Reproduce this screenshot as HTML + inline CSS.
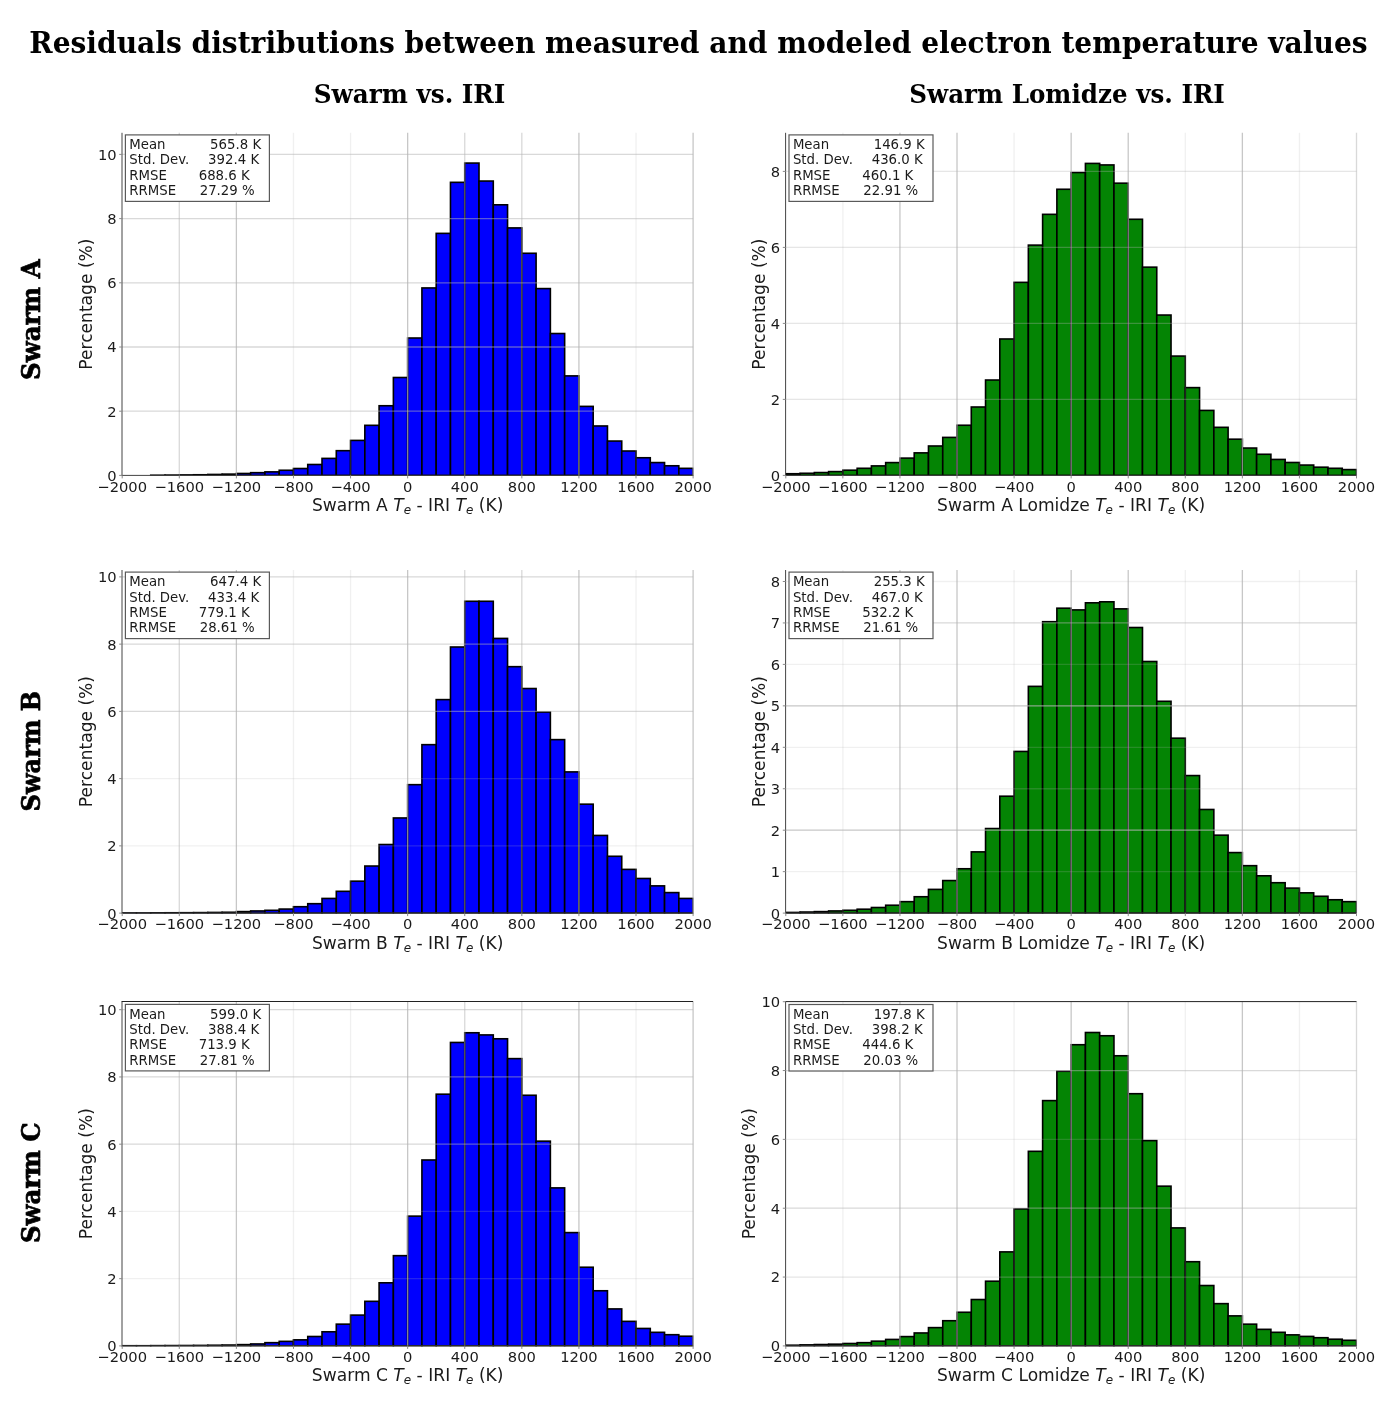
<!DOCTYPE html>
<html lang="en"><head><meta charset="utf-8"><title>Residuals distributions between measured and modeled electron temperature values</title>
<style>html,body{margin:0;padding:0;background:#fff}body{width:1392px;height:1411px;overflow:hidden}svg{display:block}</style>
</head><body>
<svg width="1392" height="1411" viewBox="0 0 1392 1411">
<rect width="1392" height="1411" fill="#fff"/>
<g font-family="'DejaVu Serif','Liberation Serif',serif" font-weight="bold" fill="#000">
<text x="29.3" y="52.5" font-size="29.3" textLength="1338.3" lengthAdjust="spacingAndGlyphs">Residuals distributions between measured and modeled electron temperature values</text>
<text x="313.7" y="102.9" font-size="25.6" textLength="191.7" lengthAdjust="spacingAndGlyphs">Swarm vs. IRI</text>
<text x="909.2" y="103.0" font-size="25.6" textLength="315.7" lengthAdjust="spacingAndGlyphs">Swarm Lomidze vs. IRI</text>
<text transform="translate(40.4 380.0) rotate(-90)" font-size="25.8" textLength="120.6" lengthAdjust="spacingAndGlyphs" stroke="#000" stroke-width="0.7">Swarm A</text>
<text transform="translate(40.4 811.5) rotate(-90)" font-size="25.8" textLength="120.6" lengthAdjust="spacingAndGlyphs" stroke="#000" stroke-width="0.7">Swarm B</text>
<text transform="translate(40.4 1243.0) rotate(-90)" font-size="25.8" textLength="120.6" lengthAdjust="spacingAndGlyphs" stroke="#000" stroke-width="0.7">Swarm C</text>
</g>
<g font-family="'DejaVu Sans','Liberation Sans',sans-serif" fill="#1a1a1a">
<g>
<clipPath id="c0"><rect x="121.90" y="132.80" width="571.60" height="343.30"/></clipPath>
<g fill="#0000fe" stroke="#000" stroke-width="1.6" stroke-linejoin="miter" clip-path="url(#c0)">
<rect x="122.20" y="475.40" width="14.27" height="0.00"/>
<rect x="136.47" y="475.40" width="14.27" height="0.00"/>
<rect x="150.75" y="475.24" width="14.27" height="0.16"/>
<rect x="165.02" y="475.08" width="14.27" height="0.32"/>
<rect x="179.29" y="474.92" width="14.27" height="0.48"/>
<rect x="193.56" y="474.76" width="14.27" height="0.64"/>
<rect x="207.83" y="474.44" width="14.27" height="0.96"/>
<rect x="222.11" y="474.12" width="14.27" height="1.28"/>
<rect x="236.38" y="473.47" width="14.27" height="1.93"/>
<rect x="250.65" y="472.67" width="14.27" height="2.73"/>
<rect x="264.93" y="471.87" width="14.27" height="3.53"/>
<rect x="279.20" y="470.26" width="14.27" height="5.14"/>
<rect x="293.47" y="468.50" width="14.27" height="6.90"/>
<rect x="307.74" y="464.49" width="14.27" height="10.91"/>
<rect x="322.01" y="458.39" width="14.27" height="17.01"/>
<rect x="336.29" y="450.68" width="14.27" height="24.72"/>
<rect x="350.56" y="440.41" width="14.27" height="34.99"/>
<rect x="364.83" y="425.32" width="14.27" height="50.08"/>
<rect x="379.10" y="405.74" width="14.27" height="69.66"/>
<rect x="393.38" y="377.50" width="14.27" height="97.91"/>
<rect x="407.65" y="338.01" width="14.27" height="137.39"/>
<rect x="421.92" y="287.94" width="14.27" height="187.46"/>
<rect x="436.19" y="233.37" width="14.27" height="242.03"/>
<rect x="450.47" y="182.33" width="14.27" height="293.07"/>
<rect x="464.74" y="163.07" width="14.27" height="312.33"/>
<rect x="479.01" y="181.04" width="14.27" height="294.36"/>
<rect x="493.28" y="204.80" width="14.27" height="270.60"/>
<rect x="507.56" y="227.91" width="14.27" height="247.49"/>
<rect x="521.83" y="253.27" width="14.27" height="222.13"/>
<rect x="536.10" y="288.58" width="14.27" height="186.82"/>
<rect x="550.38" y="333.52" width="14.27" height="141.88"/>
<rect x="564.65" y="375.89" width="14.27" height="99.51"/>
<rect x="578.92" y="406.38" width="14.27" height="69.02"/>
<rect x="593.19" y="425.97" width="14.27" height="49.43"/>
<rect x="607.47" y="441.05" width="14.27" height="34.35"/>
<rect x="621.74" y="451.00" width="14.27" height="24.40"/>
<rect x="636.01" y="457.75" width="14.27" height="17.66"/>
<rect x="650.28" y="462.56" width="14.27" height="12.84"/>
<rect x="664.56" y="465.77" width="14.27" height="9.63"/>
<rect x="678.83" y="468.34" width="14.27" height="7.06"/>
</g>
<g stroke="#b4b4b4" stroke-width="1.3" fill="none">
<line x1="179.29" y1="132.80" x2="179.29" y2="475.40" stroke-opacity="0.5"/>
<line x1="236.38" y1="132.80" x2="236.38" y2="475.40" stroke-opacity="0.75"/>
<line x1="293.47" y1="132.80" x2="293.47" y2="475.40" stroke-opacity="0.2"/>
<line x1="350.56" y1="132.80" x2="350.56" y2="475.40" stroke-opacity="0.2"/>
<line x1="407.65" y1="132.80" x2="407.65" y2="475.40" stroke-opacity="0.75"/>
<line x1="464.74" y1="132.80" x2="464.74" y2="475.40" stroke-opacity="0.5"/>
<line x1="521.83" y1="132.80" x2="521.83" y2="475.40" stroke-opacity="0.5"/>
<line x1="578.92" y1="132.80" x2="578.92" y2="475.40" stroke-opacity="0.75"/>
<line x1="636.01" y1="132.80" x2="636.01" y2="475.40" stroke-opacity="0.2"/>
<line x1="693.10" y1="132.80" x2="693.10" y2="475.40" stroke-opacity="0.75"/>
<line x1="122.20" y1="411.20" x2="693.10" y2="411.20" stroke-opacity="0.5"/>
<line x1="122.20" y1="347.00" x2="693.10" y2="347.00" stroke-opacity="0.5"/>
<line x1="122.20" y1="282.80" x2="693.10" y2="282.80" stroke-opacity="0.5"/>
<line x1="122.20" y1="218.60" x2="693.10" y2="218.60" stroke-opacity="0.5"/>
<line x1="122.20" y1="154.40" x2="693.10" y2="154.40" stroke-opacity="0.5"/>
</g>
<g stroke="#444" stroke-width="1" fill="none">
<line x1="122.00" y1="132.80" x2="122.00" y2="476.00"/>
<line x1="121.60" y1="475.40" x2="693.10" y2="475.40"/>
</g>
<g stroke="#8a8a8a" stroke-width="1">
<line x1="122.20" y1="475.40" x2="122.20" y2="478.40"/>
<line x1="179.29" y1="475.40" x2="179.29" y2="478.40"/>
<line x1="236.38" y1="475.40" x2="236.38" y2="478.40"/>
<line x1="293.47" y1="475.40" x2="293.47" y2="478.40"/>
<line x1="350.56" y1="475.40" x2="350.56" y2="478.40"/>
<line x1="407.65" y1="475.40" x2="407.65" y2="478.40"/>
<line x1="464.74" y1="475.40" x2="464.74" y2="478.40"/>
<line x1="521.83" y1="475.40" x2="521.83" y2="478.40"/>
<line x1="578.92" y1="475.40" x2="578.92" y2="478.40"/>
<line x1="636.01" y1="475.40" x2="636.01" y2="478.40"/>
<line x1="693.10" y1="475.40" x2="693.10" y2="478.40"/>
<line x1="119.20" y1="475.40" x2="122.20" y2="475.40"/>
<line x1="119.20" y1="411.20" x2="122.20" y2="411.20"/>
<line x1="119.20" y1="347.00" x2="122.20" y2="347.00"/>
<line x1="119.20" y1="282.80" x2="122.20" y2="282.80"/>
<line x1="119.20" y1="218.60" x2="122.20" y2="218.60"/>
<line x1="119.20" y1="154.40" x2="122.20" y2="154.40"/>
</g>
<g font-size="14.7">
<text x="122.20" y="491.65" text-anchor="middle">−2000</text>
<text x="179.29" y="491.65" text-anchor="middle">−1600</text>
<text x="236.38" y="491.65" text-anchor="middle">−1200</text>
<text x="293.47" y="491.65" text-anchor="middle">−800</text>
<text x="350.56" y="491.65" text-anchor="middle">−400</text>
<text x="407.65" y="491.65" text-anchor="middle">0</text>
<text x="464.74" y="491.65" text-anchor="middle">400</text>
<text x="521.83" y="491.65" text-anchor="middle">800</text>
<text x="578.92" y="491.65" text-anchor="middle">1200</text>
<text x="636.01" y="491.65" text-anchor="middle">1600</text>
<text x="693.10" y="491.65" text-anchor="middle">2000</text>
<text x="116.60" y="480.80" text-anchor="end">0</text>
<text x="116.60" y="416.60" text-anchor="end">2</text>
<text x="116.60" y="352.40" text-anchor="end">4</text>
<text x="116.60" y="288.20" text-anchor="end">6</text>
<text x="116.60" y="224.00" text-anchor="end">8</text>
<text x="116.60" y="159.80" text-anchor="end">10</text>
</g>
<text x="407.65" y="510.80" font-size="17.1" text-anchor="middle">Swarm A <tspan font-style="italic">T</tspan><tspan font-size="11.97" dy="3" font-style="italic">e</tspan><tspan dy="-3"> - IRI </tspan><tspan font-style="italic">T</tspan><tspan font-size="11.97" dy="3" font-style="italic">e</tspan><tspan dy="-3"> (K)</tspan></text>
<text transform="translate(91.70 304.10) rotate(-90)" font-size="17.1" text-anchor="middle">Percentage (%)</text>
<rect x="125.40" y="134.90" width="144" height="66.5" fill="#fff" stroke="#5a5a5a" stroke-width="1.2"/>
<g font-size="13.3">
<text x="129.30" y="149.10">Mean</text>
<text x="210.10" y="149.10">565.8 K</text>
<text x="129.30" y="164.40">Std. Dev.</text>
<text x="208.10" y="164.40">392.4 K</text>
<text x="129.30" y="179.70">RMSE</text>
<text x="198.70" y="179.70">688.6 K</text>
<text x="129.30" y="195.00">RRMSE</text>
<text x="199.70" y="195.00">27.29 %</text>
</g>
</g>
<g>
<clipPath id="c1"><rect x="785.50" y="132.80" width="571.40" height="343.30"/></clipPath>
<g fill="#048404" stroke="#000" stroke-width="1.6" stroke-linejoin="miter" clip-path="url(#c1)">
<rect x="785.80" y="473.73" width="14.27" height="1.67"/>
<rect x="800.07" y="473.27" width="14.27" height="2.13"/>
<rect x="814.33" y="472.55" width="14.27" height="2.85"/>
<rect x="828.60" y="471.60" width="14.27" height="3.80"/>
<rect x="842.87" y="470.19" width="14.27" height="5.21"/>
<rect x="857.14" y="468.29" width="14.27" height="7.11"/>
<rect x="871.40" y="465.90" width="14.27" height="9.50"/>
<rect x="885.67" y="462.59" width="14.27" height="12.81"/>
<rect x="899.94" y="458.11" width="14.27" height="17.29"/>
<rect x="914.21" y="452.87" width="14.27" height="22.53"/>
<rect x="928.47" y="445.99" width="14.27" height="29.41"/>
<rect x="942.74" y="437.40" width="14.27" height="38.00"/>
<rect x="957.01" y="425.24" width="14.27" height="50.16"/>
<rect x="971.28" y="407.00" width="14.27" height="68.40"/>
<rect x="985.54" y="380.02" width="14.27" height="95.38"/>
<rect x="999.81" y="338.98" width="14.27" height="136.42"/>
<rect x="1014.08" y="282.36" width="14.27" height="193.04"/>
<rect x="1028.35" y="245.12" width="14.27" height="230.28"/>
<rect x="1042.62" y="214.34" width="14.27" height="261.06"/>
<rect x="1056.88" y="189.26" width="14.27" height="286.14"/>
<rect x="1071.15" y="172.54" width="14.27" height="302.86"/>
<rect x="1085.42" y="163.42" width="14.27" height="311.98"/>
<rect x="1099.68" y="164.94" width="14.27" height="310.46"/>
<rect x="1113.95" y="183.18" width="14.27" height="292.22"/>
<rect x="1128.22" y="219.28" width="14.27" height="256.12"/>
<rect x="1142.49" y="267.16" width="14.27" height="208.24"/>
<rect x="1156.76" y="315.04" width="14.27" height="160.36"/>
<rect x="1171.02" y="356.08" width="14.27" height="119.32"/>
<rect x="1185.29" y="387.62" width="14.27" height="87.78"/>
<rect x="1199.56" y="410.42" width="14.27" height="64.98"/>
<rect x="1213.83" y="427.33" width="14.27" height="48.07"/>
<rect x="1228.09" y="439.19" width="14.27" height="36.21"/>
<rect x="1242.36" y="448.04" width="14.27" height="27.36"/>
<rect x="1256.63" y="454.27" width="14.27" height="21.13"/>
<rect x="1270.89" y="459.44" width="14.27" height="15.96"/>
<rect x="1285.16" y="462.48" width="14.27" height="12.92"/>
<rect x="1299.43" y="465.06" width="14.27" height="10.34"/>
<rect x="1313.70" y="467.19" width="14.27" height="8.21"/>
<rect x="1327.97" y="468.29" width="14.27" height="7.11"/>
<rect x="1342.23" y="469.59" width="14.27" height="5.81"/>
</g>
<g stroke="#b4b4b4" stroke-width="1.3" fill="none">
<line x1="842.87" y1="132.80" x2="842.87" y2="475.40" stroke-opacity="0.2"/>
<line x1="899.94" y1="132.80" x2="899.94" y2="475.40" stroke-opacity="0.75"/>
<line x1="957.01" y1="132.80" x2="957.01" y2="475.40" stroke-opacity="0.75"/>
<line x1="1014.08" y1="132.80" x2="1014.08" y2="475.40" stroke-opacity="0.2"/>
<line x1="1071.15" y1="132.80" x2="1071.15" y2="475.40" stroke-opacity="0.75"/>
<line x1="1128.22" y1="132.80" x2="1128.22" y2="475.40" stroke-opacity="0.75"/>
<line x1="1185.29" y1="132.80" x2="1185.29" y2="475.40" stroke-opacity="0.2"/>
<line x1="1242.36" y1="132.80" x2="1242.36" y2="475.40" stroke-opacity="0.75"/>
<line x1="1299.43" y1="132.80" x2="1299.43" y2="475.40" stroke-opacity="0.2"/>
<line x1="1356.50" y1="132.80" x2="1356.50" y2="475.40" stroke-opacity="0.5"/>
<line x1="785.80" y1="399.40" x2="1356.50" y2="399.40" stroke-opacity="0.33"/>
<line x1="785.80" y1="323.40" x2="1356.50" y2="323.40" stroke-opacity="0.33"/>
<line x1="785.80" y1="247.40" x2="1356.50" y2="247.40" stroke-opacity="0.33"/>
<line x1="785.80" y1="171.40" x2="1356.50" y2="171.40" stroke-opacity="0.33"/>
</g>
<g stroke="#444" stroke-width="1" fill="none">
<line x1="785.60" y1="132.80" x2="785.60" y2="476.00"/>
<line x1="785.20" y1="475.40" x2="1356.50" y2="475.40"/>
</g>
<g stroke="#8a8a8a" stroke-width="1">
<line x1="785.80" y1="475.40" x2="785.80" y2="478.40"/>
<line x1="842.87" y1="475.40" x2="842.87" y2="478.40"/>
<line x1="899.94" y1="475.40" x2="899.94" y2="478.40"/>
<line x1="957.01" y1="475.40" x2="957.01" y2="478.40"/>
<line x1="1014.08" y1="475.40" x2="1014.08" y2="478.40"/>
<line x1="1071.15" y1="475.40" x2="1071.15" y2="478.40"/>
<line x1="1128.22" y1="475.40" x2="1128.22" y2="478.40"/>
<line x1="1185.29" y1="475.40" x2="1185.29" y2="478.40"/>
<line x1="1242.36" y1="475.40" x2="1242.36" y2="478.40"/>
<line x1="1299.43" y1="475.40" x2="1299.43" y2="478.40"/>
<line x1="1356.50" y1="475.40" x2="1356.50" y2="478.40"/>
<line x1="782.80" y1="475.40" x2="785.80" y2="475.40"/>
<line x1="782.80" y1="399.40" x2="785.80" y2="399.40"/>
<line x1="782.80" y1="323.40" x2="785.80" y2="323.40"/>
<line x1="782.80" y1="247.40" x2="785.80" y2="247.40"/>
<line x1="782.80" y1="171.40" x2="785.80" y2="171.40"/>
</g>
<g font-size="14.7">
<text x="785.80" y="491.65" text-anchor="middle">−2000</text>
<text x="842.87" y="491.65" text-anchor="middle">−1600</text>
<text x="899.94" y="491.65" text-anchor="middle">−1200</text>
<text x="957.01" y="491.65" text-anchor="middle">−800</text>
<text x="1014.08" y="491.65" text-anchor="middle">−400</text>
<text x="1071.15" y="491.65" text-anchor="middle">0</text>
<text x="1128.22" y="491.65" text-anchor="middle">400</text>
<text x="1185.29" y="491.65" text-anchor="middle">800</text>
<text x="1242.36" y="491.65" text-anchor="middle">1200</text>
<text x="1299.43" y="491.65" text-anchor="middle">1600</text>
<text x="1356.50" y="491.65" text-anchor="middle">2000</text>
<text x="780.20" y="480.80" text-anchor="end">0</text>
<text x="780.20" y="404.80" text-anchor="end">2</text>
<text x="780.20" y="328.80" text-anchor="end">4</text>
<text x="780.20" y="252.80" text-anchor="end">6</text>
<text x="780.20" y="176.80" text-anchor="end">8</text>
</g>
<text x="1071.15" y="510.80" font-size="17.1" text-anchor="middle">Swarm A Lomidze <tspan font-style="italic">T</tspan><tspan font-size="11.97" dy="3" font-style="italic">e</tspan><tspan dy="-3"> - IRI </tspan><tspan font-style="italic">T</tspan><tspan font-size="11.97" dy="3" font-style="italic">e</tspan><tspan dy="-3"> (K)</tspan></text>
<text transform="translate(764.60 304.10) rotate(-90)" font-size="17.1" text-anchor="middle">Percentage (%)</text>
<rect x="789.00" y="134.90" width="144" height="66.5" fill="#fff" stroke="#5a5a5a" stroke-width="1.2"/>
<g font-size="13.3">
<text x="792.90" y="149.10">Mean</text>
<text x="873.70" y="149.10">146.9 K</text>
<text x="792.90" y="164.40">Std. Dev.</text>
<text x="871.70" y="164.40">436.0 K</text>
<text x="792.90" y="179.70">RMSE</text>
<text x="862.30" y="179.70">460.1 K</text>
<text x="792.90" y="195.00">RRMSE</text>
<text x="863.30" y="195.00">22.91 %</text>
</g>
</g>
<g>
<clipPath id="c2"><rect x="121.90" y="570.00" width="571.60" height="343.80"/></clipPath>
<g fill="#0000fe" stroke="#000" stroke-width="1.6" stroke-linejoin="miter" clip-path="url(#c2)">
<rect x="122.20" y="912.93" width="14.27" height="0.17"/>
<rect x="136.47" y="912.93" width="14.27" height="0.17"/>
<rect x="150.75" y="912.83" width="14.27" height="0.27"/>
<rect x="165.02" y="912.76" width="14.27" height="0.34"/>
<rect x="179.29" y="912.70" width="14.27" height="0.40"/>
<rect x="193.56" y="912.60" width="14.27" height="0.50"/>
<rect x="207.83" y="912.43" width="14.27" height="0.67"/>
<rect x="222.11" y="912.26" width="14.27" height="0.84"/>
<rect x="236.38" y="911.59" width="14.27" height="1.51"/>
<rect x="250.65" y="910.95" width="14.27" height="2.15"/>
<rect x="264.93" y="910.31" width="14.27" height="2.79"/>
<rect x="279.20" y="909.07" width="14.27" height="4.03"/>
<rect x="293.47" y="906.71" width="14.27" height="6.39"/>
<rect x="307.74" y="903.69" width="14.27" height="9.41"/>
<rect x="322.01" y="898.44" width="14.27" height="14.66"/>
<rect x="336.29" y="891.31" width="14.27" height="21.79"/>
<rect x="350.56" y="881.16" width="14.27" height="31.94"/>
<rect x="364.83" y="866.03" width="14.27" height="47.07"/>
<rect x="379.10" y="844.52" width="14.27" height="68.58"/>
<rect x="393.38" y="817.96" width="14.27" height="95.14"/>
<rect x="407.65" y="784.67" width="14.27" height="128.43"/>
<rect x="421.92" y="744.66" width="14.27" height="168.44"/>
<rect x="436.19" y="699.61" width="14.27" height="213.49"/>
<rect x="450.47" y="647.00" width="14.27" height="266.10"/>
<rect x="464.74" y="601.27" width="14.27" height="311.83"/>
<rect x="479.01" y="601.27" width="14.27" height="311.83"/>
<rect x="493.28" y="638.42" width="14.27" height="274.68"/>
<rect x="507.56" y="666.67" width="14.27" height="246.43"/>
<rect x="521.83" y="688.52" width="14.27" height="224.58"/>
<rect x="536.10" y="712.05" width="14.27" height="201.05"/>
<rect x="550.38" y="739.62" width="14.27" height="173.48"/>
<rect x="564.65" y="771.90" width="14.27" height="141.20"/>
<rect x="578.92" y="804.17" width="14.27" height="108.93"/>
<rect x="593.19" y="835.44" width="14.27" height="77.66"/>
<rect x="607.47" y="856.28" width="14.27" height="56.82"/>
<rect x="621.74" y="869.39" width="14.27" height="43.71"/>
<rect x="636.01" y="878.47" width="14.27" height="34.63"/>
<rect x="650.28" y="885.87" width="14.27" height="27.23"/>
<rect x="664.56" y="892.59" width="14.27" height="20.51"/>
<rect x="678.83" y="898.44" width="14.27" height="14.66"/>
</g>
<g stroke="#b4b4b4" stroke-width="1.3" fill="none">
<line x1="179.29" y1="570.00" x2="179.29" y2="913.10" stroke-opacity="0.5"/>
<line x1="236.38" y1="570.00" x2="236.38" y2="913.10" stroke-opacity="0.75"/>
<line x1="293.47" y1="570.00" x2="293.47" y2="913.10" stroke-opacity="0.2"/>
<line x1="350.56" y1="570.00" x2="350.56" y2="913.10" stroke-opacity="0.2"/>
<line x1="407.65" y1="570.00" x2="407.65" y2="913.10" stroke-opacity="0.75"/>
<line x1="464.74" y1="570.00" x2="464.74" y2="913.10" stroke-opacity="0.5"/>
<line x1="521.83" y1="570.00" x2="521.83" y2="913.10" stroke-opacity="0.5"/>
<line x1="578.92" y1="570.00" x2="578.92" y2="913.10" stroke-opacity="0.75"/>
<line x1="636.01" y1="570.00" x2="636.01" y2="913.10" stroke-opacity="0.2"/>
<line x1="693.10" y1="570.00" x2="693.10" y2="913.10" stroke-opacity="0.75"/>
<line x1="122.20" y1="845.86" x2="693.10" y2="845.86" stroke-opacity="0.2"/>
<line x1="122.20" y1="778.62" x2="693.10" y2="778.62" stroke-opacity="0.2"/>
<line x1="122.20" y1="711.38" x2="693.10" y2="711.38" stroke-opacity="0.5"/>
<line x1="122.20" y1="644.14" x2="693.10" y2="644.14" stroke-opacity="0.5"/>
<line x1="122.20" y1="576.90" x2="693.10" y2="576.90" stroke-opacity="0.5"/>
</g>
<g stroke="#444" stroke-width="1" fill="none">
<line x1="122.00" y1="570.00" x2="122.00" y2="913.70"/>
<line x1="121.60" y1="913.10" x2="693.10" y2="913.10"/>
</g>
<g stroke="#8a8a8a" stroke-width="1">
<line x1="122.20" y1="913.10" x2="122.20" y2="916.10"/>
<line x1="179.29" y1="913.10" x2="179.29" y2="916.10"/>
<line x1="236.38" y1="913.10" x2="236.38" y2="916.10"/>
<line x1="293.47" y1="913.10" x2="293.47" y2="916.10"/>
<line x1="350.56" y1="913.10" x2="350.56" y2="916.10"/>
<line x1="407.65" y1="913.10" x2="407.65" y2="916.10"/>
<line x1="464.74" y1="913.10" x2="464.74" y2="916.10"/>
<line x1="521.83" y1="913.10" x2="521.83" y2="916.10"/>
<line x1="578.92" y1="913.10" x2="578.92" y2="916.10"/>
<line x1="636.01" y1="913.10" x2="636.01" y2="916.10"/>
<line x1="693.10" y1="913.10" x2="693.10" y2="916.10"/>
<line x1="119.20" y1="913.10" x2="122.20" y2="913.10"/>
<line x1="119.20" y1="845.86" x2="122.20" y2="845.86"/>
<line x1="119.20" y1="778.62" x2="122.20" y2="778.62"/>
<line x1="119.20" y1="711.38" x2="122.20" y2="711.38"/>
<line x1="119.20" y1="644.14" x2="122.20" y2="644.14"/>
<line x1="119.20" y1="576.90" x2="122.20" y2="576.90"/>
</g>
<g font-size="14.7">
<text x="122.20" y="929.35" text-anchor="middle">−2000</text>
<text x="179.29" y="929.35" text-anchor="middle">−1600</text>
<text x="236.38" y="929.35" text-anchor="middle">−1200</text>
<text x="293.47" y="929.35" text-anchor="middle">−800</text>
<text x="350.56" y="929.35" text-anchor="middle">−400</text>
<text x="407.65" y="929.35" text-anchor="middle">0</text>
<text x="464.74" y="929.35" text-anchor="middle">400</text>
<text x="521.83" y="929.35" text-anchor="middle">800</text>
<text x="578.92" y="929.35" text-anchor="middle">1200</text>
<text x="636.01" y="929.35" text-anchor="middle">1600</text>
<text x="693.10" y="929.35" text-anchor="middle">2000</text>
<text x="116.60" y="918.50" text-anchor="end">0</text>
<text x="116.60" y="851.26" text-anchor="end">2</text>
<text x="116.60" y="784.02" text-anchor="end">4</text>
<text x="116.60" y="716.78" text-anchor="end">6</text>
<text x="116.60" y="649.54" text-anchor="end">8</text>
<text x="116.60" y="582.30" text-anchor="end">10</text>
</g>
<text x="407.65" y="948.50" font-size="17.1" text-anchor="middle">Swarm B <tspan font-style="italic">T</tspan><tspan font-size="11.97" dy="3" font-style="italic">e</tspan><tspan dy="-3"> - IRI </tspan><tspan font-style="italic">T</tspan><tspan font-size="11.97" dy="3" font-style="italic">e</tspan><tspan dy="-3"> (K)</tspan></text>
<text transform="translate(91.70 741.55) rotate(-90)" font-size="17.1" text-anchor="middle">Percentage (%)</text>
<rect x="125.40" y="572.10" width="144" height="66.5" fill="#fff" stroke="#5a5a5a" stroke-width="1.2"/>
<g font-size="13.3">
<text x="129.30" y="586.30">Mean</text>
<text x="210.10" y="586.30">647.4 K</text>
<text x="129.30" y="601.60">Std. Dev.</text>
<text x="208.10" y="601.60">433.4 K</text>
<text x="129.30" y="616.90">RMSE</text>
<text x="198.70" y="616.90">779.1 K</text>
<text x="129.30" y="632.20">RRMSE</text>
<text x="199.70" y="632.20">28.61 %</text>
</g>
</g>
<g>
<clipPath id="c3"><rect x="785.50" y="570.00" width="571.40" height="343.80"/></clipPath>
<g fill="#048404" stroke="#000" stroke-width="1.6" stroke-linejoin="miter" clip-path="url(#c3)">
<rect x="785.80" y="912.44" width="14.27" height="0.66"/>
<rect x="800.07" y="912.02" width="14.27" height="1.08"/>
<rect x="814.33" y="911.61" width="14.27" height="1.49"/>
<rect x="828.60" y="910.94" width="14.27" height="2.16"/>
<rect x="842.87" y="910.28" width="14.27" height="2.82"/>
<rect x="857.14" y="909.20" width="14.27" height="3.90"/>
<rect x="871.40" y="907.50" width="14.27" height="5.60"/>
<rect x="885.67" y="905.22" width="14.27" height="7.88"/>
<rect x="899.94" y="901.66" width="14.27" height="11.44"/>
<rect x="914.21" y="896.73" width="14.27" height="16.37"/>
<rect x="928.47" y="889.39" width="14.27" height="23.71"/>
<rect x="942.74" y="880.56" width="14.27" height="32.54"/>
<rect x="957.01" y="868.75" width="14.27" height="44.35"/>
<rect x="971.28" y="851.88" width="14.27" height="61.22"/>
<rect x="985.54" y="828.54" width="14.27" height="84.56"/>
<rect x="999.81" y="796.21" width="14.27" height="116.89"/>
<rect x="1014.08" y="751.45" width="14.27" height="161.66"/>
<rect x="1028.35" y="686.37" width="14.27" height="226.73"/>
<rect x="1042.62" y="621.71" width="14.27" height="291.39"/>
<rect x="1056.88" y="608.19" width="14.27" height="304.91"/>
<rect x="1071.15" y="609.89" width="14.27" height="303.21"/>
<rect x="1085.42" y="602.81" width="14.27" height="310.29"/>
<rect x="1099.68" y="601.81" width="14.27" height="311.29"/>
<rect x="1113.95" y="608.86" width="14.27" height="304.24"/>
<rect x="1128.22" y="627.51" width="14.27" height="285.59"/>
<rect x="1142.49" y="661.50" width="14.27" height="251.60"/>
<rect x="1156.76" y="701.29" width="14.27" height="211.81"/>
<rect x="1171.02" y="738.18" width="14.27" height="174.92"/>
<rect x="1185.29" y="775.57" width="14.27" height="137.53"/>
<rect x="1199.56" y="809.48" width="14.27" height="103.62"/>
<rect x="1213.83" y="835.17" width="14.27" height="77.93"/>
<rect x="1228.09" y="852.58" width="14.27" height="60.52"/>
<rect x="1242.36" y="865.68" width="14.27" height="47.42"/>
<rect x="1256.63" y="875.80" width="14.27" height="37.31"/>
<rect x="1270.89" y="882.72" width="14.27" height="30.38"/>
<rect x="1285.16" y="888.11" width="14.27" height="24.99"/>
<rect x="1299.43" y="892.83" width="14.27" height="20.27"/>
<rect x="1313.70" y="896.27" width="14.27" height="16.83"/>
<rect x="1327.97" y="899.75" width="14.27" height="13.35"/>
<rect x="1342.23" y="901.66" width="14.27" height="11.44"/>
</g>
<g stroke="#b4b4b4" stroke-width="1.3" fill="none">
<line x1="842.87" y1="570.00" x2="842.87" y2="913.10" stroke-opacity="0.2"/>
<line x1="899.94" y1="570.00" x2="899.94" y2="913.10" stroke-opacity="0.75"/>
<line x1="957.01" y1="570.00" x2="957.01" y2="913.10" stroke-opacity="0.75"/>
<line x1="1014.08" y1="570.00" x2="1014.08" y2="913.10" stroke-opacity="0.2"/>
<line x1="1071.15" y1="570.00" x2="1071.15" y2="913.10" stroke-opacity="0.75"/>
<line x1="1128.22" y1="570.00" x2="1128.22" y2="913.10" stroke-opacity="0.75"/>
<line x1="1185.29" y1="570.00" x2="1185.29" y2="913.10" stroke-opacity="0.2"/>
<line x1="1242.36" y1="570.00" x2="1242.36" y2="913.10" stroke-opacity="0.75"/>
<line x1="1299.43" y1="570.00" x2="1299.43" y2="913.10" stroke-opacity="0.2"/>
<line x1="1356.50" y1="570.00" x2="1356.50" y2="913.10" stroke-opacity="0.5"/>
<line x1="785.80" y1="871.65" x2="1356.50" y2="871.65" stroke-opacity="0.2"/>
<line x1="785.80" y1="830.20" x2="1356.50" y2="830.20" stroke-opacity="0.75"/>
<line x1="785.80" y1="788.75" x2="1356.50" y2="788.75" stroke-opacity="0.2"/>
<line x1="785.80" y1="747.30" x2="1356.50" y2="747.30" stroke-opacity="0.2"/>
<line x1="785.80" y1="705.85" x2="1356.50" y2="705.85" stroke-opacity="0.75"/>
<line x1="785.80" y1="664.40" x2="1356.50" y2="664.40" stroke-opacity="0.2"/>
<line x1="785.80" y1="622.95" x2="1356.50" y2="622.95" stroke-opacity="0.5"/>
<line x1="785.80" y1="581.50" x2="1356.50" y2="581.50" stroke-opacity="0.2"/>
</g>
<g stroke="#444" stroke-width="1" fill="none">
<line x1="785.60" y1="570.00" x2="785.60" y2="913.70"/>
<line x1="785.20" y1="913.10" x2="1356.50" y2="913.10"/>
</g>
<g stroke="#8a8a8a" stroke-width="1">
<line x1="785.80" y1="913.10" x2="785.80" y2="916.10"/>
<line x1="842.87" y1="913.10" x2="842.87" y2="916.10"/>
<line x1="899.94" y1="913.10" x2="899.94" y2="916.10"/>
<line x1="957.01" y1="913.10" x2="957.01" y2="916.10"/>
<line x1="1014.08" y1="913.10" x2="1014.08" y2="916.10"/>
<line x1="1071.15" y1="913.10" x2="1071.15" y2="916.10"/>
<line x1="1128.22" y1="913.10" x2="1128.22" y2="916.10"/>
<line x1="1185.29" y1="913.10" x2="1185.29" y2="916.10"/>
<line x1="1242.36" y1="913.10" x2="1242.36" y2="916.10"/>
<line x1="1299.43" y1="913.10" x2="1299.43" y2="916.10"/>
<line x1="1356.50" y1="913.10" x2="1356.50" y2="916.10"/>
<line x1="782.80" y1="913.10" x2="785.80" y2="913.10"/>
<line x1="782.80" y1="871.65" x2="785.80" y2="871.65"/>
<line x1="782.80" y1="830.20" x2="785.80" y2="830.20"/>
<line x1="782.80" y1="788.75" x2="785.80" y2="788.75"/>
<line x1="782.80" y1="747.30" x2="785.80" y2="747.30"/>
<line x1="782.80" y1="705.85" x2="785.80" y2="705.85"/>
<line x1="782.80" y1="664.40" x2="785.80" y2="664.40"/>
<line x1="782.80" y1="622.95" x2="785.80" y2="622.95"/>
<line x1="782.80" y1="581.50" x2="785.80" y2="581.50"/>
</g>
<g font-size="14.7">
<text x="785.80" y="929.35" text-anchor="middle">−2000</text>
<text x="842.87" y="929.35" text-anchor="middle">−1600</text>
<text x="899.94" y="929.35" text-anchor="middle">−1200</text>
<text x="957.01" y="929.35" text-anchor="middle">−800</text>
<text x="1014.08" y="929.35" text-anchor="middle">−400</text>
<text x="1071.15" y="929.35" text-anchor="middle">0</text>
<text x="1128.22" y="929.35" text-anchor="middle">400</text>
<text x="1185.29" y="929.35" text-anchor="middle">800</text>
<text x="1242.36" y="929.35" text-anchor="middle">1200</text>
<text x="1299.43" y="929.35" text-anchor="middle">1600</text>
<text x="1356.50" y="929.35" text-anchor="middle">2000</text>
<text x="780.20" y="918.50" text-anchor="end">0</text>
<text x="780.20" y="877.05" text-anchor="end">1</text>
<text x="780.20" y="835.60" text-anchor="end">2</text>
<text x="780.20" y="794.15" text-anchor="end">3</text>
<text x="780.20" y="752.70" text-anchor="end">4</text>
<text x="780.20" y="711.25" text-anchor="end">5</text>
<text x="780.20" y="669.80" text-anchor="end">6</text>
<text x="780.20" y="628.35" text-anchor="end">7</text>
<text x="780.20" y="586.90" text-anchor="end">8</text>
</g>
<text x="1071.15" y="948.50" font-size="17.1" text-anchor="middle">Swarm B Lomidze <tspan font-style="italic">T</tspan><tspan font-size="11.97" dy="3" font-style="italic">e</tspan><tspan dy="-3"> - IRI </tspan><tspan font-style="italic">T</tspan><tspan font-size="11.97" dy="3" font-style="italic">e</tspan><tspan dy="-3"> (K)</tspan></text>
<text transform="translate(764.60 741.55) rotate(-90)" font-size="17.1" text-anchor="middle">Percentage (%)</text>
<rect x="789.00" y="572.10" width="144" height="66.5" fill="#fff" stroke="#5a5a5a" stroke-width="1.2"/>
<g font-size="13.3">
<text x="792.90" y="586.30">Mean</text>
<text x="873.70" y="586.30">255.3 K</text>
<text x="792.90" y="601.60">Std. Dev.</text>
<text x="871.70" y="601.60">467.0 K</text>
<text x="792.90" y="616.90">RMSE</text>
<text x="862.30" y="616.90">532.2 K</text>
<text x="792.90" y="632.20">RRMSE</text>
<text x="863.30" y="632.20">21.61 %</text>
</g>
</g>
<g>
<clipPath id="c4"><rect x="121.90" y="1001.50" width="571.60" height="345.10"/></clipPath>
<g fill="#0000fe" stroke="#000" stroke-width="1.6" stroke-linejoin="miter" clip-path="url(#c4)">
<rect x="122.20" y="1345.73" width="14.27" height="0.17"/>
<rect x="136.47" y="1345.73" width="14.27" height="0.17"/>
<rect x="150.75" y="1345.63" width="14.27" height="0.27"/>
<rect x="165.02" y="1345.56" width="14.27" height="0.34"/>
<rect x="179.29" y="1345.50" width="14.27" height="0.40"/>
<rect x="193.56" y="1345.40" width="14.27" height="0.50"/>
<rect x="207.83" y="1345.23" width="14.27" height="0.67"/>
<rect x="222.11" y="1345.03" width="14.27" height="0.87"/>
<rect x="236.38" y="1344.62" width="14.27" height="1.28"/>
<rect x="250.65" y="1343.95" width="14.27" height="1.95"/>
<rect x="264.93" y="1342.67" width="14.27" height="3.23"/>
<rect x="279.20" y="1341.36" width="14.27" height="4.54"/>
<rect x="293.47" y="1339.85" width="14.27" height="6.05"/>
<rect x="307.74" y="1336.49" width="14.27" height="9.41"/>
<rect x="322.01" y="1331.78" width="14.27" height="14.12"/>
<rect x="336.29" y="1324.15" width="14.27" height="21.75"/>
<rect x="350.56" y="1315.10" width="14.27" height="30.80"/>
<rect x="364.83" y="1301.32" width="14.27" height="44.58"/>
<rect x="379.10" y="1282.80" width="14.27" height="63.10"/>
<rect x="393.38" y="1255.66" width="14.27" height="90.24"/>
<rect x="407.65" y="1216.13" width="14.27" height="129.77"/>
<rect x="421.92" y="1159.98" width="14.27" height="185.92"/>
<rect x="436.19" y="1094.19" width="14.27" height="251.71"/>
<rect x="450.47" y="1042.45" width="14.27" height="303.45"/>
<rect x="464.74" y="1032.76" width="14.27" height="313.14"/>
<rect x="479.01" y="1034.92" width="14.27" height="310.98"/>
<rect x="493.28" y="1038.78" width="14.27" height="307.12"/>
<rect x="507.56" y="1058.62" width="14.27" height="287.28"/>
<rect x="521.83" y="1095.26" width="14.27" height="250.64"/>
<rect x="536.10" y="1141.15" width="14.27" height="204.75"/>
<rect x="550.38" y="1187.89" width="14.27" height="158.01"/>
<rect x="564.65" y="1232.60" width="14.27" height="113.30"/>
<rect x="578.92" y="1267.23" width="14.27" height="78.67"/>
<rect x="593.19" y="1290.76" width="14.27" height="55.14"/>
<rect x="607.47" y="1308.92" width="14.27" height="36.98"/>
<rect x="621.74" y="1321.36" width="14.27" height="24.54"/>
<rect x="636.01" y="1328.45" width="14.27" height="17.45"/>
<rect x="650.28" y="1332.32" width="14.27" height="13.58"/>
<rect x="664.56" y="1334.70" width="14.27" height="11.20"/>
<rect x="678.83" y="1336.22" width="14.27" height="9.68"/>
</g>
<g stroke="#b4b4b4" stroke-width="1.3" fill="none">
<line x1="179.29" y1="1001.50" x2="179.29" y2="1345.90" stroke-opacity="0.5"/>
<line x1="236.38" y1="1001.50" x2="236.38" y2="1345.90" stroke-opacity="0.75"/>
<line x1="293.47" y1="1001.50" x2="293.47" y2="1345.90" stroke-opacity="0.2"/>
<line x1="350.56" y1="1001.50" x2="350.56" y2="1345.90" stroke-opacity="0.2"/>
<line x1="407.65" y1="1001.50" x2="407.65" y2="1345.90" stroke-opacity="0.75"/>
<line x1="464.74" y1="1001.50" x2="464.74" y2="1345.90" stroke-opacity="0.5"/>
<line x1="521.83" y1="1001.50" x2="521.83" y2="1345.90" stroke-opacity="0.5"/>
<line x1="578.92" y1="1001.50" x2="578.92" y2="1345.90" stroke-opacity="0.75"/>
<line x1="636.01" y1="1001.50" x2="636.01" y2="1345.90" stroke-opacity="0.2"/>
<line x1="693.10" y1="1001.50" x2="693.10" y2="1345.90" stroke-opacity="0.75"/>
<line x1="122.20" y1="1278.66" x2="693.10" y2="1278.66" stroke-opacity="0.2"/>
<line x1="122.20" y1="1211.42" x2="693.10" y2="1211.42" stroke-opacity="0.2"/>
<line x1="122.20" y1="1144.18" x2="693.10" y2="1144.18" stroke-opacity="0.5"/>
<line x1="122.20" y1="1076.94" x2="693.10" y2="1076.94" stroke-opacity="0.5"/>
<line x1="122.20" y1="1009.70" x2="693.10" y2="1009.70" stroke-opacity="0.5"/>
</g>
<g stroke="#444" stroke-width="1" fill="none">
<line x1="122.00" y1="1001.50" x2="122.00" y2="1346.50"/>
<line x1="121.60" y1="1345.90" x2="693.10" y2="1345.90"/>
<line x1="121.60" y1="1001.50" x2="693.10" y2="1001.50" stroke="#222"/>
</g>
<g stroke="#8a8a8a" stroke-width="1">
<line x1="122.20" y1="1345.90" x2="122.20" y2="1348.90"/>
<line x1="179.29" y1="1345.90" x2="179.29" y2="1348.90"/>
<line x1="236.38" y1="1345.90" x2="236.38" y2="1348.90"/>
<line x1="293.47" y1="1345.90" x2="293.47" y2="1348.90"/>
<line x1="350.56" y1="1345.90" x2="350.56" y2="1348.90"/>
<line x1="407.65" y1="1345.90" x2="407.65" y2="1348.90"/>
<line x1="464.74" y1="1345.90" x2="464.74" y2="1348.90"/>
<line x1="521.83" y1="1345.90" x2="521.83" y2="1348.90"/>
<line x1="578.92" y1="1345.90" x2="578.92" y2="1348.90"/>
<line x1="636.01" y1="1345.90" x2="636.01" y2="1348.90"/>
<line x1="693.10" y1="1345.90" x2="693.10" y2="1348.90"/>
<line x1="119.20" y1="1345.90" x2="122.20" y2="1345.90"/>
<line x1="119.20" y1="1278.66" x2="122.20" y2="1278.66"/>
<line x1="119.20" y1="1211.42" x2="122.20" y2="1211.42"/>
<line x1="119.20" y1="1144.18" x2="122.20" y2="1144.18"/>
<line x1="119.20" y1="1076.94" x2="122.20" y2="1076.94"/>
<line x1="119.20" y1="1009.70" x2="122.20" y2="1009.70"/>
</g>
<g font-size="14.7">
<text x="122.20" y="1362.15" text-anchor="middle">−2000</text>
<text x="179.29" y="1362.15" text-anchor="middle">−1600</text>
<text x="236.38" y="1362.15" text-anchor="middle">−1200</text>
<text x="293.47" y="1362.15" text-anchor="middle">−800</text>
<text x="350.56" y="1362.15" text-anchor="middle">−400</text>
<text x="407.65" y="1362.15" text-anchor="middle">0</text>
<text x="464.74" y="1362.15" text-anchor="middle">400</text>
<text x="521.83" y="1362.15" text-anchor="middle">800</text>
<text x="578.92" y="1362.15" text-anchor="middle">1200</text>
<text x="636.01" y="1362.15" text-anchor="middle">1600</text>
<text x="693.10" y="1362.15" text-anchor="middle">2000</text>
<text x="116.60" y="1351.30" text-anchor="end">0</text>
<text x="116.60" y="1284.06" text-anchor="end">2</text>
<text x="116.60" y="1216.82" text-anchor="end">4</text>
<text x="116.60" y="1149.58" text-anchor="end">6</text>
<text x="116.60" y="1082.34" text-anchor="end">8</text>
<text x="116.60" y="1015.10" text-anchor="end">10</text>
</g>
<text x="407.65" y="1381.30" font-size="17.1" text-anchor="middle">Swarm C <tspan font-style="italic">T</tspan><tspan font-size="11.97" dy="3" font-style="italic">e</tspan><tspan dy="-3"> - IRI </tspan><tspan font-style="italic">T</tspan><tspan font-size="11.97" dy="3" font-style="italic">e</tspan><tspan dy="-3"> (K)</tspan></text>
<text transform="translate(91.70 1173.70) rotate(-90)" font-size="17.1" text-anchor="middle">Percentage (%)</text>
<rect x="125.40" y="1004.40" width="144" height="66.5" fill="#fff" stroke="#5a5a5a" stroke-width="1.2"/>
<g font-size="13.3">
<text x="129.30" y="1018.60">Mean</text>
<text x="210.10" y="1018.60">599.0 K</text>
<text x="129.30" y="1033.90">Std. Dev.</text>
<text x="208.10" y="1033.90">388.4 K</text>
<text x="129.30" y="1049.20">RMSE</text>
<text x="198.70" y="1049.20">713.9 K</text>
<text x="129.30" y="1064.50">RRMSE</text>
<text x="199.70" y="1064.50">27.81 %</text>
</g>
</g>
<g>
<clipPath id="c5"><rect x="785.50" y="1001.60" width="571.40" height="345.00"/></clipPath>
<g fill="#048404" stroke="#000" stroke-width="1.6" stroke-linejoin="miter" clip-path="url(#c5)">
<rect x="785.80" y="1345.21" width="14.27" height="0.69"/>
<rect x="800.07" y="1344.87" width="14.27" height="1.03"/>
<rect x="814.33" y="1344.52" width="14.27" height="1.38"/>
<rect x="828.60" y="1344.18" width="14.27" height="1.73"/>
<rect x="842.87" y="1343.49" width="14.27" height="2.42"/>
<rect x="857.14" y="1342.66" width="14.27" height="3.24"/>
<rect x="871.40" y="1341.16" width="14.27" height="4.74"/>
<rect x="885.67" y="1339.43" width="14.27" height="6.47"/>
<rect x="899.94" y="1336.59" width="14.27" height="9.32"/>
<rect x="914.21" y="1332.96" width="14.27" height="12.94"/>
<rect x="928.47" y="1327.62" width="14.27" height="18.29"/>
<rect x="942.74" y="1320.72" width="14.27" height="25.18"/>
<rect x="957.01" y="1312.26" width="14.27" height="33.64"/>
<rect x="971.28" y="1299.53" width="14.27" height="46.37"/>
<rect x="985.54" y="1281.21" width="14.27" height="64.69"/>
<rect x="999.81" y="1251.89" width="14.27" height="94.01"/>
<rect x="1014.08" y="1208.94" width="14.27" height="136.97"/>
<rect x="1028.35" y="1151.32" width="14.27" height="194.58"/>
<rect x="1042.62" y="1100.61" width="14.27" height="245.30"/>
<rect x="1056.88" y="1071.28" width="14.27" height="274.62"/>
<rect x="1071.15" y="1044.72" width="14.27" height="301.19"/>
<rect x="1085.42" y="1032.50" width="14.27" height="313.40"/>
<rect x="1099.68" y="1035.75" width="14.27" height="310.16"/>
<rect x="1113.95" y="1055.76" width="14.27" height="290.14"/>
<rect x="1128.22" y="1093.71" width="14.27" height="252.19"/>
<rect x="1142.49" y="1140.62" width="14.27" height="205.28"/>
<rect x="1156.76" y="1186.17" width="14.27" height="159.73"/>
<rect x="1171.02" y="1227.91" width="14.27" height="117.99"/>
<rect x="1185.29" y="1261.72" width="14.27" height="84.18"/>
<rect x="1199.56" y="1285.53" width="14.27" height="60.38"/>
<rect x="1213.83" y="1303.64" width="14.27" height="42.26"/>
<rect x="1228.09" y="1315.88" width="14.27" height="30.02"/>
<rect x="1242.36" y="1324.17" width="14.27" height="21.73"/>
<rect x="1256.63" y="1329.34" width="14.27" height="16.56"/>
<rect x="1270.89" y="1332.31" width="14.27" height="13.59"/>
<rect x="1285.16" y="1334.86" width="14.27" height="11.04"/>
<rect x="1299.43" y="1336.41" width="14.27" height="9.49"/>
<rect x="1313.70" y="1337.71" width="14.27" height="8.19"/>
<rect x="1327.97" y="1339.21" width="14.27" height="6.69"/>
<rect x="1342.23" y="1340.29" width="14.27" height="5.61"/>
</g>
<g stroke="#b4b4b4" stroke-width="1.3" fill="none">
<line x1="842.87" y1="1001.60" x2="842.87" y2="1345.90" stroke-opacity="0.2"/>
<line x1="899.94" y1="1001.60" x2="899.94" y2="1345.90" stroke-opacity="0.75"/>
<line x1="957.01" y1="1001.60" x2="957.01" y2="1345.90" stroke-opacity="0.75"/>
<line x1="1014.08" y1="1001.60" x2="1014.08" y2="1345.90" stroke-opacity="0.2"/>
<line x1="1071.15" y1="1001.60" x2="1071.15" y2="1345.90" stroke-opacity="0.75"/>
<line x1="1128.22" y1="1001.60" x2="1128.22" y2="1345.90" stroke-opacity="0.75"/>
<line x1="1185.29" y1="1001.60" x2="1185.29" y2="1345.90" stroke-opacity="0.2"/>
<line x1="1242.36" y1="1001.60" x2="1242.36" y2="1345.90" stroke-opacity="0.75"/>
<line x1="1299.43" y1="1001.60" x2="1299.43" y2="1345.90" stroke-opacity="0.2"/>
<line x1="1356.50" y1="1001.60" x2="1356.50" y2="1345.90" stroke-opacity="0.5"/>
<line x1="785.80" y1="1277.06" x2="1356.50" y2="1277.06" stroke-opacity="0.33"/>
<line x1="785.80" y1="1208.22" x2="1356.50" y2="1208.22" stroke-opacity="0.5"/>
<line x1="785.80" y1="1139.38" x2="1356.50" y2="1139.38" stroke-opacity="0.2"/>
<line x1="785.80" y1="1070.54" x2="1356.50" y2="1070.54" stroke-opacity="0.5"/>
</g>
<g stroke="#444" stroke-width="1" fill="none">
<line x1="785.60" y1="1001.60" x2="785.60" y2="1346.50"/>
<line x1="785.20" y1="1345.90" x2="1356.50" y2="1345.90"/>
<line x1="785.20" y1="1001.60" x2="1356.50" y2="1001.60" stroke="#222"/>
</g>
<g stroke="#8a8a8a" stroke-width="1">
<line x1="785.80" y1="1345.90" x2="785.80" y2="1348.90"/>
<line x1="842.87" y1="1345.90" x2="842.87" y2="1348.90"/>
<line x1="899.94" y1="1345.90" x2="899.94" y2="1348.90"/>
<line x1="957.01" y1="1345.90" x2="957.01" y2="1348.90"/>
<line x1="1014.08" y1="1345.90" x2="1014.08" y2="1348.90"/>
<line x1="1071.15" y1="1345.90" x2="1071.15" y2="1348.90"/>
<line x1="1128.22" y1="1345.90" x2="1128.22" y2="1348.90"/>
<line x1="1185.29" y1="1345.90" x2="1185.29" y2="1348.90"/>
<line x1="1242.36" y1="1345.90" x2="1242.36" y2="1348.90"/>
<line x1="1299.43" y1="1345.90" x2="1299.43" y2="1348.90"/>
<line x1="1356.50" y1="1345.90" x2="1356.50" y2="1348.90"/>
<line x1="782.80" y1="1345.90" x2="785.80" y2="1345.90"/>
<line x1="782.80" y1="1277.06" x2="785.80" y2="1277.06"/>
<line x1="782.80" y1="1208.22" x2="785.80" y2="1208.22"/>
<line x1="782.80" y1="1139.38" x2="785.80" y2="1139.38"/>
<line x1="782.80" y1="1070.54" x2="785.80" y2="1070.54"/>
<line x1="782.80" y1="1001.70" x2="785.80" y2="1001.70"/>
</g>
<g font-size="14.7">
<text x="785.80" y="1362.15" text-anchor="middle">−2000</text>
<text x="842.87" y="1362.15" text-anchor="middle">−1600</text>
<text x="899.94" y="1362.15" text-anchor="middle">−1200</text>
<text x="957.01" y="1362.15" text-anchor="middle">−800</text>
<text x="1014.08" y="1362.15" text-anchor="middle">−400</text>
<text x="1071.15" y="1362.15" text-anchor="middle">0</text>
<text x="1128.22" y="1362.15" text-anchor="middle">400</text>
<text x="1185.29" y="1362.15" text-anchor="middle">800</text>
<text x="1242.36" y="1362.15" text-anchor="middle">1200</text>
<text x="1299.43" y="1362.15" text-anchor="middle">1600</text>
<text x="1356.50" y="1362.15" text-anchor="middle">2000</text>
<text x="780.20" y="1351.30" text-anchor="end">0</text>
<text x="780.20" y="1282.46" text-anchor="end">2</text>
<text x="780.20" y="1213.62" text-anchor="end">4</text>
<text x="780.20" y="1144.78" text-anchor="end">6</text>
<text x="780.20" y="1075.94" text-anchor="end">8</text>
<text x="780.20" y="1007.10" text-anchor="end">10</text>
</g>
<text x="1071.15" y="1381.30" font-size="17.1" text-anchor="middle">Swarm C Lomidze <tspan font-style="italic">T</tspan><tspan font-size="11.97" dy="3" font-style="italic">e</tspan><tspan dy="-3"> - IRI </tspan><tspan font-style="italic">T</tspan><tspan font-size="11.97" dy="3" font-style="italic">e</tspan><tspan dy="-3"> (K)</tspan></text>
<text transform="translate(754.80 1173.75) rotate(-90)" font-size="17.1" text-anchor="middle">Percentage (%)</text>
<rect x="789.00" y="1004.50" width="144" height="66.5" fill="#fff" stroke="#5a5a5a" stroke-width="1.2"/>
<g font-size="13.3">
<text x="792.90" y="1018.70">Mean</text>
<text x="873.70" y="1018.70">197.8 K</text>
<text x="792.90" y="1034.00">Std. Dev.</text>
<text x="871.70" y="1034.00">398.2 K</text>
<text x="792.90" y="1049.30">RMSE</text>
<text x="862.30" y="1049.30">444.6 K</text>
<text x="792.90" y="1064.60">RRMSE</text>
<text x="863.30" y="1064.60">20.03 %</text>
</g>
</g>
</g>
</svg>
</body></html>
